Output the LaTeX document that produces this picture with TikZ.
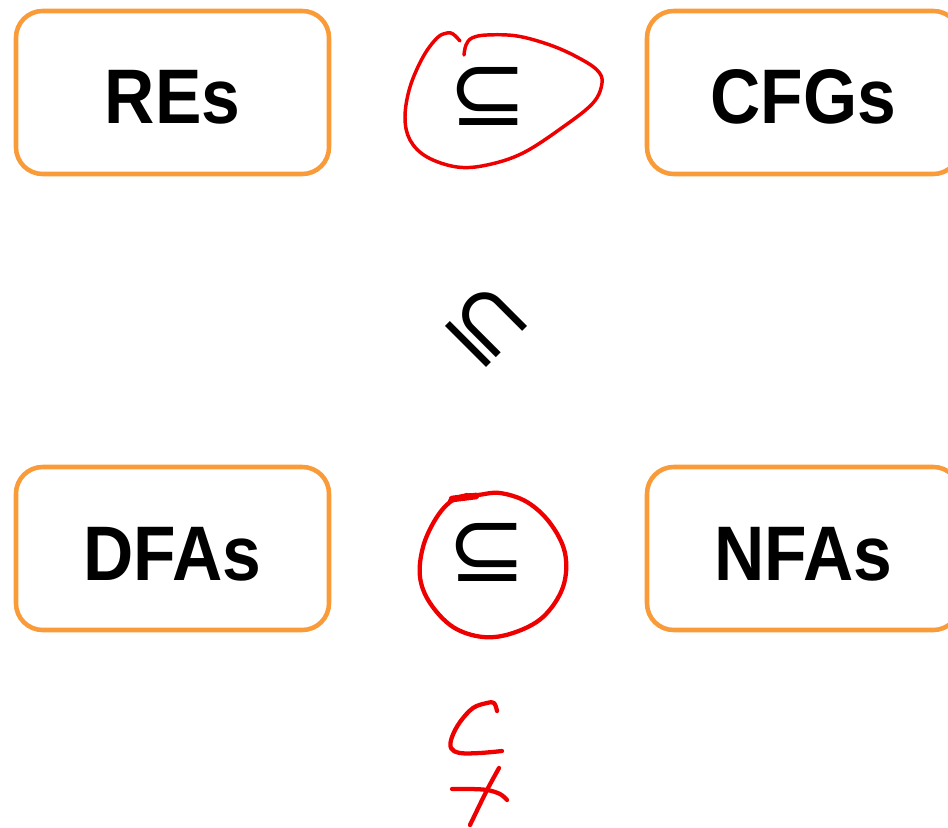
\documentclass[tikz,border=0pt]{standalone}
\usepackage{fontspec}
\setmainfont{Liberation Sans}[FakeStretch=0.9]
\newfontfamily\symfont{DejaVu Sans}
\definecolor{boxorange}{RGB}{248,155,56}
\definecolor{penred}{RGB}{238,0,0}
\begin{document}
\begin{tikzpicture}[x=0.75pt,y=-0.75pt,
  cls/.style={draw=boxorange, line width=3.4pt, rounded corners=20pt,
    minimum width=234.75pt, minimum height=122.25pt, inner sep=0pt,
    font=\fontsize{58}{62}\selectfont\bfseries, text height=47.25pt, text depth=0pt},
  rel/.style={font=\symfont\fontsize{71}{76}\selectfont, inner sep=0pt},
  pen/.style={draw=penred, line width=3.2pt, line cap=round, line join=round}]
\useasboundingbox (0,0) rectangle (948,827);
\begin{scope}
\clip (0,0) rectangle (948,827);
\node[cls] (re)  at (172.5,92.5) {REs};
\node[cls] (cfg) at (803.5,92.5) {CFGs};
\node[cls] (dfa) at (172.5,548.5) {DFAs};
\node[cls] (nfa) at (803.5,548.5) {NFAs};
\end{scope}
\node[rel] (s1) at (488,96) {⊆};
\node[rel] (s2) at (487,552) {⊆};
\node[rel, rotate=-45] (s3) at (486,326) {⊆};
% red annotations
\draw[pen, line width=2.6pt] plot[smooth, tension=0.6] coordinates {
 (460,41) (453,34) (447,33) (437,38) (423,57) (410,87) (405,117) (410,140)
 (427,157) (457,167) (487,165) (523,153) (563,127) (593,103) (602,83)
 (597,70) (577,57) (550,45) (517,36) (487,35) (472,38) (466,45) (464,55)};
\draw[pen] plot[smooth, tension=0.6] coordinates {
 (450,501) (463,496) (478,495) (500,493) (527,502) (550,523) (565,553)
 (563,587) (543,617) (513,633) (483,637) (453,627) (430,603) (420,577)
 (423,547) (435,520) (450,502) (467,495)};
\draw[pen, line width=5pt] (452,499) -- (476,496);
\draw[pen] plot[smooth, tension=0.6] coordinates {
 (497,711) (494,703) (487,703) (473,708) (460,722) (452,737) (451,748)
 (460,753) (480,753) (502,751)};
\draw[pen] plot[smooth, tension=0.6] coordinates {
 (452,789) (470,789) (487,790) (500,794) (507,800)};
\draw[pen] plot[smooth, tension=0.4] coordinates {
 (499,768) (487,790) (470,825)};
\end{tikzpicture}
\end{document}
